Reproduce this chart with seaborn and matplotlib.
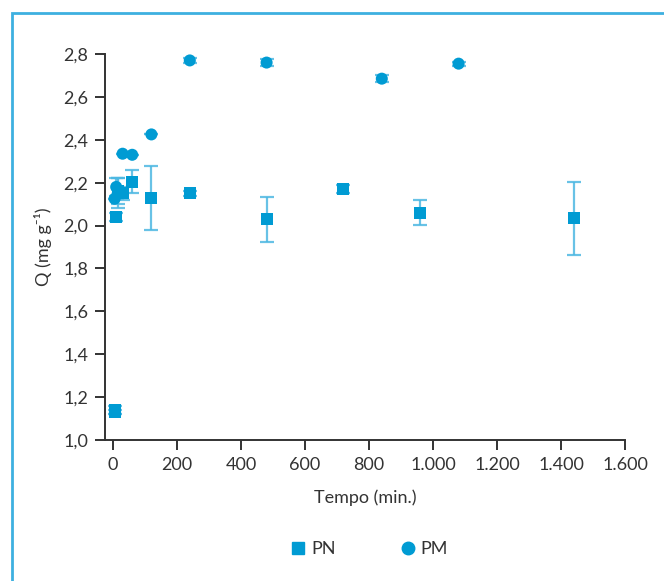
import pandas as pd
import numpy as np
import matplotlib
matplotlib.use("Agg")
import matplotlib.pyplot as plt
import matplotlib.ticker as mticker
from matplotlib.patches import Rectangle
import seaborn as sns

# --- data ---
pn_time = [5, 5, 10, 15, 30, 60, 120, 240, 480, 720, 960, 1440]
pn_q = [1.14, 1.13, 2.04, 2.16, 2.15, 2.205, 2.13, 2.15, 2.03, 2.17, 2.06, 2.035]
pn_err = [0.02, 0.01, 0.02, 0.06, 0.03, 0.055, 0.15, 0.01, 0.105, 0.02, 0.058, 0.17]

pm_time = [5, 10, 15, 30, 60, 120, 240, 480, 840, 1080]
pm_q = [2.125, 2.18, 2.15, 2.335, 2.33, 2.425, 2.77, 2.76, 2.685, 2.755]
pm_err = [0.0, 0.04, 0.07, 0.0, 0.0, 0.0, 0.01, 0.015, 0.015, 0.01]

blue = "#009BD3"
err_blue = "#4DB8E2"
frame_blue = "#3DB0E0"
txt = "#333333"

df = pd.concat([
    pd.DataFrame({"t": pn_time, "q": pn_q, "err": pn_err, "serie": "PN"}),
    pd.DataFrame({"t": pm_time, "q": pm_q, "err": pm_err, "serie": "PM"}),
], ignore_index=True)

sns.set_style("ticks")
plt.rcParams["font.family"] = ["Lato", "DejaVu Sans"]
plt.rcParams["text.color"] = txt

fig = plt.figure(figsize=(6.64, 5.81), dpi=100)
ax = fig.add_axes([105 / 664, 1 - 440 / 581, 520 / 664, 386 / 581])

# error bars first, markers on top
for name, grp in df.groupby("serie"):
    ax.errorbar(grp["t"], grp["q"], yerr=grp["err"], fmt="none",
                ecolor=err_blue, elinewidth=1.6, capsize=5, capthick=1.6,
                alpha=0.85, zorder=2)

sns.scatterplot(data=df, x="t", y="q", hue="serie", style="serie",
                markers={"PN": "s", "PM": "o"},
                palette={"PN": blue, "PM": blue},
                s=75, edgecolor="none", legend=False, ax=ax, zorder=3)

ax.set_xlim(-25, 1600)
ax.set_ylim(1.0, 2.8)
ax.set_xticks(np.arange(0, 1601, 200))
ax.set_yticks(np.arange(1.0, 2.81, 0.2))

ax.xaxis.set_major_formatter(mticker.FuncFormatter(
    lambda v, p: f"{int(round(v)):,}".replace(",", ".")))
ax.yaxis.set_major_formatter(mticker.FuncFormatter(
    lambda v, p: f"{v:.1f}".replace(".", ",")))

for side in ["top", "right"]:
    ax.spines[side].set_visible(False)
for side in ["left", "bottom"]:
    ax.spines[side].set_color(txt)
    ax.spines[side].set_linewidth(1.4)
ax.tick_params(axis="both", direction="out", length=7, width=1.4,
               color=txt, labelsize=13, labelcolor=txt, pad=5)

ax.set_xlabel("Tempo (min.)", fontsize=13, color=txt, labelpad=12)
ax.set_ylabel("Q (mg g⁻¹)", fontsize=13, color=txt, labelpad=8)

# legend below the plot
h1 = plt.Line2D([], [], marker="s", color=blue, linestyle="none", markersize=9)
h2 = plt.Line2D([], [], marker="o", color=blue, linestyle="none", markersize=9)
leg = fig.legend([h1, h2], ["PN", "PM"], loc="center", ncol=2,
                 bbox_to_anchor=(0.555, 0.055), frameon=False, fontsize=13,
                 handletextpad=0.2, columnspacing=3.5, handlelength=1.0)
for t in leg.get_texts():
    t.set_color(txt)

# light blue frame (left and top edges visible)
fig.patches.append(Rectangle((12 / 664, -0.05), 1.0, 1 - 13 / 581 + 0.05,
                             transform=fig.transFigure, fill=False,
                             edgecolor=frame_blue, linewidth=2.0))

fig.savefig("out.png", dpi=100)
